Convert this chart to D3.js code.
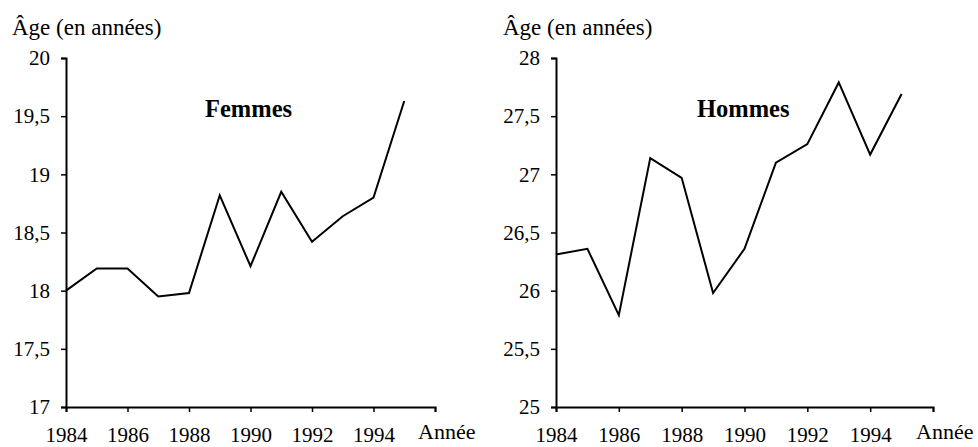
<!DOCTYPE html>
<html>
<head>
<meta charset="utf-8">
<script src="https://cdn.jsdelivr.net/npm/d3@7"></script>
<style>
  body { margin: 0; background: #fff; }
  svg { display: block; }
</style>
</head>
<body>
<svg id="chart" width="978" height="447"></svg>
<script>
const years = [1984, 1985, 1986, 1987, 1988, 1989, 1990, 1991, 1992, 1993, 1994, 1995];
const femmes = [18.0, 18.19, 18.19, 17.95, 17.98, 18.82, 18.21, 18.85, 18.42, 18.64, 18.8, 19.63];
const hommes = [26.31, 26.36, 25.79, 27.14, 26.97, 25.98, 26.36, 27.1, 27.26, 27.79, 27.17, 27.69];
const xTicks = [1984, 1986, 1988, 1990, 1992, 1994, 1996];
const femmesTicks = [17, 17.5, 18, 18.5, 19, 19.5, 20];
const hommesTicks = [25, 25.5, 26, 26.5, 27, 27.5, 28];

const FONT = 'Liberation Serif, Tinos, Times New Roman, Times, serif';
const svg = d3.select('#chart');
const fmt = (d) => String(d).replace('.', ',');

function drawPanel(opts) {
  const g = svg.append('g');
  const x = d3.scaleLinear().domain([1984, 1996]).range([opts.x0, opts.x1]);
  const y = d3.scaleLinear().domain(opts.yDomain).range([407, 58]);

  // y axis
  const yAxis = g.append('g')
    .attr('transform', `translate(${opts.x0},0)`)
    .call(d3.axisLeft(y).tickValues(opts.yTicks).tickFormat(fmt).tickSizeOuter(0).tickSize(5).tickPadding(11));
  yAxis.select('.domain').attr('stroke-width', 2);
  yAxis.selectAll('.tick line').attr('stroke-width', 1.5);

  // x axis
  const xAxis = g.append('g')
    .attr('transform', 'translate(0,407)')
    .call(d3.axisBottom(x).tickValues(xTicks)
      .tickFormat((d) => (d === 1996 ? '' : d)).tickSizeOuter(0).tickSize(5).tickPadding(15));
  xAxis.select('.domain').attr('stroke-width', 2);
  xAxis.selectAll('.tick line').attr('stroke-width', 1.5);

  g.selectAll('.tick text')
    .attr('font-size', 21)
    .style('font-family', FONT);

  g.append('text')
    .attr('x', opts.x1 - 17)
    .attr('y', 439)
    .style('font-family', FONT)
    .attr('font-size', 22)
    .text('Année');

  g.append('text')
    .attr('x', opts.labelX)
    .attr('y', 35)
    .style('font-family', FONT)
    .attr('font-size', 23)
    .text('Âge (en années)');

  g.append('text')
    .attr('x', opts.titleX)
    .attr('y', 117)
    .style('font-family', FONT)
    .attr('font-size', 24.5)
    .attr('font-weight', 'bold')
    .text(opts.title);

  const line = d3.line()
    .x((d, i) => x(years[i]))
    .y((d) => y(d));

  g.append('path')
    .datum(opts.values)
    .attr('fill', 'none')
    .attr('stroke', '#000')
    .attr('stroke-width', 2)
    .attr('d', line);
}

drawPanel({ x0: 66, x1: 435, yDomain: [17, 20], yTicks: femmesTicks, values: femmes,
  title: 'Femmes', titleX: 205, labelX: 12 });
drawPanel({ x0: 556, x1: 933, yDomain: [25, 28], yTicks: hommesTicks, values: hommes,
  title: 'Hommes', titleX: 697, labelX: 503 });
</script>
</body>
</html>
